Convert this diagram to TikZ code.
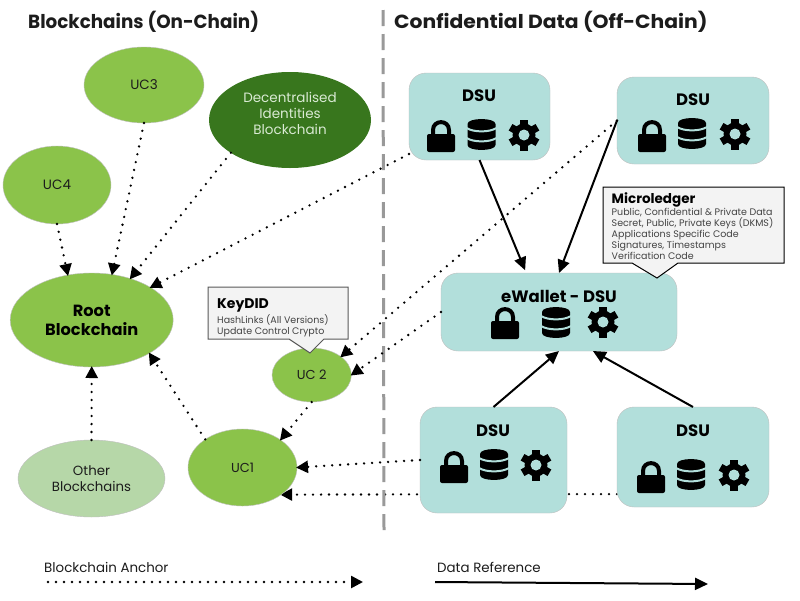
\documentclass[tikz,border=0pt]{standalone}
\usepackage{fontspec}
\setmainfont{Poppins}
\usetikzlibrary{arrows.meta,shapes.geometric}
\pgfdeclarelayer{back}
\pgfsetlayers{back,main}
\definecolor{leaf}{HTML}{8BC34A}
\definecolor{darkleaf}{HTML}{38761D}
\definecolor{paleleaf}{HTML}{B6D7A8}
\definecolor{mist}{HTML}{D9EAD3}
\definecolor{teal}{HTML}{B2DFDB}
\definecolor{ink}{HTML}{1C1C1C}
\definecolor{softink}{HTML}{434343}
\definecolor{note}{HTML}{F3F3F3}
\tikzset{
  x=1pt,y=-1pt,
  chain/.style={shape=ellipse,draw=black!25,line width=.4pt,inner sep=0pt,outer sep=0pt,text=ink,align=center,fill=leaf},
  uclabel/.style={font=\fontsize{13.5}{16}\selectfont},
  dsubox/.style={shape=rectangle,rounded corners=17pt,draw=black!25,line width=.4pt,fill=teal,inner sep=0pt,outer sep=0pt},
  dsutitle/.style={font=\fontsize{16.5}{18}\selectfont\bfseries,text=black,inner sep=0pt},
  anchorline/.style={line width=2.6pt,line cap=round,dash pattern=on 0pt off 8pt,-{Triangle[length=12pt,width=12pt]},shorten >=-1pt},
  dataline/.style={line width=2pt,-{Triangle[length=13pt,width=12pt]}},
  titletext/.style={font=\fontsize{19}{22}\selectfont\bfseries,text=ink,inner sep=0pt,anchor=west},
  notetext/.style={inner sep=0pt,anchor=north west,align=left,text=softink,font=\fontsize{9.5}{11}\selectfont},
  legendtext/.style={inner sep=0pt,anchor=west,text=ink,font=\fontsize{13.4}{15}\selectfont},
  lockicon/.pic={
    \fill[black,rounded corners=2pt] (0,14) rectangle (28,32);
    \draw[black,line width=4pt] (6,15) -- (6,10) .. controls (6,-0.5) and (22,-0.5) .. (22,10) -- (22,15);
  },
  dbicon/.pic={
    \fill[black] (0,5) .. controls (0,-1.6) and (28,-1.6) .. (28,5) -- (28,26) .. controls (28,32.6) and (0,32.6) .. (0,26) -- cycle;
    \draw[teal,line width=2pt] (-1,9) .. controls (6,13.5) and (22,13.5) .. (29,9);
    \draw[teal,line width=2pt] (-1,19) .. controls (6,23.5) and (22,23.5) .. (29,19);
  },
  gearicon/.pic={
    \fill[black] (0,0) circle (11.5pt);
    \foreach \a in {30,90,150,210,270,330}
      \draw[black,line width=7.5pt] (0,0) -- (\a:15.5);
    \fill[teal] (0,0) circle (5.5pt);
  },
}
\begin{document}
\begin{tikzpicture}
\useasboundingbox (0,0) rectangle (800,600);
\begin{pgfonlayer}{back}
\fill[white] (0,0) rectangle (800,600);
\end{pgfonlayer}

\draw[black!40,line width=3pt,dash pattern=on 16pt off 8pt] (383,10) -- (384,530);

\node[titletext] (titleleft) at (28,22) {\scalebox{.965}[1]{Blockchains (On-Chain)}};
\node[titletext] (titleright) at (394,22) {\scalebox{1.07}[1]{Confidential Data (Off-Chain)}};

% blockchains
\node[chain,minimum width=120pt,minimum height=76pt,uclabel] (uc3) at (144,85) {UC3};
\node[chain,fill=darkleaf,draw=none,minimum width=162pt,minimum height=96pt] (did) at (290,120) {};
\node[inner sep=0pt,align=center,text=mist,font=\fontsize{13.5}{16}\selectfont] (didtext) at (290,113) {Decentralised\\Identities\\Blockchain};
\node[chain,minimum width=108pt,minimum height=78pt,uclabel] (uc4) at (57,185) {UC4};
\node[chain,minimum width=163pt,minimum height=94pt,font=\fontsize{16.2}{19}\selectfont\bfseries,text=black] (root) at (91.7,320) {Root\\Blockchain};
\node[chain,minimum width=79.4pt,minimum height=54pt,font=\fontsize{13}{16}\selectfont] (uc2) at (311.7,375) {UC 2};
\node[chain,minimum width=109pt,minimum height=77pt,font=\fontsize{13}{16}\selectfont] (uc1) at (242.5,467.5) {UC1};
\node[chain,fill=paleleaf,minimum width=147pt,minimum height=77pt,font=\fontsize{13.3}{16}\selectfont] (other) at (91.5,478.5) {Other\\Blockchains};

% DSU boxes
\node[dsubox,minimum width=141pt,minimum height=87pt] (dsua) at (479.5,116.5) {};
\node[dsubox,minimum width=152pt,minimum height=87pt] (dsub) at (693,120.5) {};
\node[dsubox,minimum width=236pt,minimum height=78pt] (wallet) at (559,312) {};
\node[dsubox,minimum width=147pt,minimum height=106pt] (dsuc) at (493.5,460) {};
\node[dsubox,minimum width=152pt,minimum height=100pt] (dsud) at (693,457) {};

\node[dsutitle] (ta) at (479,96) {DSU};
\node[dsutitle] (tb) at (693,100) {DSU};
\node[dsutitle] (tw) at (559,296) {eWallet - DSU};
\node[dsutitle] (tc) at (493,431) {DSU};
\node[dsutitle] (td) at (693,431) {DSU};

\pic at (427,120) {lockicon}; \pic at (467.5,119) {dbicon}; \pic at (524,135) {gearicon};
\pic at (638,120) {lockicon}; \pic at (678,118) {dbicon}; \pic at (735,134) {gearicon};
\pic at (491,307) {lockicon}; \pic at (542,307) {dbicon}; \pic at (603,322) {gearicon};
\pic at (440,451) {lockicon}; \pic at (480,449) {dbicon}; \pic at (536,465) {gearicon};
\pic at (637,461) {lockicon}; \pic at (677,459) {dbicon}; \pic at (734,475) {gearicon};

% dotted anchors
\draw[anchorline] (uc3.south) -- (root.66);
\draw[anchorline] (did.209.6) -- (root.47);
\draw[anchorline] (uc4.south) -- (root.118);
\draw[anchorline] (dsua.208.6) -- (root.29.6);
\draw[anchorline] (dsub.west) -- (uc2.32);
\draw[anchorline] (wallet.west) -- (uc2.east);
\draw[anchorline] (uc2.south) -- (uc1.36.5);
\draw[anchorline] (uc1.143.5) -- (root.-30);
\draw[anchorline] (other.north) -- (root.south);
\draw[anchorline] (dsuc.west) -- (uc1.east);
\begin{pgfonlayer}{back}
\draw[anchorline] (dsud.206.6) -- (uc1.-35.5);
\end{pgfonlayer}

% solid references
\draw[dataline,shorten >=3pt] (dsua.south) -- (wallet.130);
\draw[dataline] (dsub.west) -- (wallet.north);
\draw[dataline] (dsuc.north) -- (wallet.south);
\draw[dataline] (dsud.north) -- (wallet.-49.8);

% callouts
\draw[black,line width=1pt,fill=note] (603,187) -- (784,187) -- (784,263) -- (678,263) -- (657,278) -- (632,263) -- (603,263) -- cycle;
\node[notetext] (mlbody) at (611.5,192) {{\fontsize{13.5}{13}\selectfont\bfseries\textcolor{black}{Microledger}}\\[1.5pt]Public, Confidential \& Private Data\\Secret, Public, Private Keys (DKMS)\\Applications Specific Code\\Signatures, Timestamps\\Verification Code};
\draw[black!65,line width=1pt,fill=note] (208,287) -- (348,287) -- (348,339) -- (324,339) -- (310,353) -- (289,339) -- (208,339) -- cycle;
\node[notetext] (kdbody) at (217,298) {{\fontsize{14}{13}\selectfont\bfseries\textcolor{black}{KeyDID}}\\[1.5pt]HashLinks (All Versions)\\Update Control Crypto};

% legend
\coordinate (la) at (48,582);
\coordinate (lb) at (362,582);
\coordinate (lc) at (435,582);
\coordinate (ld) at (708,584);
\node[legendtext] (legendanchor) at (44,567) {Blockchain Anchor};
\node[legendtext] (legenddata) at (437,567) {Data Reference};
\draw[anchorline] (la) -- (lb);
\draw[dataline] (lc) -- (ld);
\end{tikzpicture}
\end{document}
